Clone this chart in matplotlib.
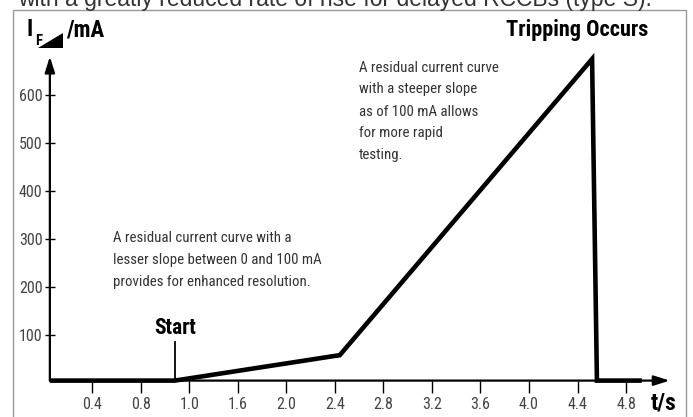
import matplotlib
matplotlib.use("Agg")
import matplotlib.pyplot as plt
from matplotlib.patches import Rectangle, Polygon

# ---------------- data ----------------
t_curve = [0.05, 1.08, 2.44, 4.52, 4.56, 4.93]
i_curve = [5, 5, 58, 675, 5, 5]
start_t = 1.08
start_top = 85
x_ticks = [0.4, 0.8, 1.2, 1.6, 2.0, 2.4, 2.8, 3.2, 3.6, 4.0, 4.4, 4.8]
x_labels = ["0.4", "0.8", "1.0", "1.6", "2.0", "2.4", "2.8", "3.2", "3.6", "4.0", "4.4", "4.8"]
y_ticks = [100, 200, 300, 400, 500, 600]
y_labels = ["100", "200", "300", "400", "500", "600"]
axis_x0 = 0.05
axis_y0 = 5
x_arrow_end = 5.16
y_arrow_end = 680

lower_note = ["A residual current curve with a",
              "lesser slope between 0 and 100 mA",
              "provides for enhanced resolution."]
upper_note = ["A residual current curve",
              "with a steeper slope",
              "as of 100 mA allows",
              "for more rapid",
              "testing."]
top_line = "with a greatly reduced rate of rise for delayed RCCBs (type S)."

NARROW = ["Roboto Condensed", "DejaVu Sans"]
SANS = ["Liberation Sans", "DejaVu Sans"]

W, H = 693, 417
fig = plt.figure(figsize=(W / 100, H / 100), dpi=100)
ax = fig.add_axes([0, 0, 1, 1])
ax.set_xlim((0 - 43.8) / 121.3, (W - 43.8) / 121.3)
ax.set_ylim((383 - H) / 0.48, 383 / 0.48)
ax.patch.set_alpha(0)

for s in ax.spines.values():
    s.set_visible(False)
ax.spines["left"].set_position(("data", axis_x0))
ax.spines["bottom"].set_position(("data", axis_y0))

ax.set_xticks(x_ticks)
ax.set_xticklabels(x_labels)
ax.set_yticks(y_ticks)
ax.set_yticklabels(y_labels)
ax.tick_params(axis="x", direction="out", length=8.5, width=1.0, pad=3,
               labelsize=11.5, labelcolor="#444444", top=False)
ax.tick_params(axis="y", direction="inout", length=7.5, width=1.0, pad=1.5,
               labelsize=11.5, labelcolor="#444444", right=False)
for lab in ax.get_xticklabels() + ax.get_yticklabels():
    lab.set_family(NARROW)

# axes with arrows
arrow_style = "-|>,head_length=0.95,head_width=0.3"
ax.annotate("", xy=(axis_x0, y_arrow_end), xytext=(axis_x0, axis_y0),
            arrowprops=dict(arrowstyle=arrow_style, lw=1.6, color="black",
                            shrinkA=0, shrinkB=0))
ax.annotate("", xy=(x_arrow_end, axis_y0), xytext=(axis_x0, axis_y0),
            arrowprops=dict(arrowstyle=arrow_style, lw=1.6, color="black",
                            shrinkA=0, shrinkB=0))

# curve
ax.plot(t_curve, i_curve, color="black", lw=3.3, solid_joinstyle="miter",
        solid_capstyle="butt", zorder=5)
ax.plot([start_t, start_t], [axis_y0, start_top], color="black", lw=1.3, zorder=6)

# texts
ax.text(start_t, 115, "Start", ha="center", va="center", fontsize=15.5,
        fontweight="bold", family=NARROW, color="black")
ax.text((648 - 43.8) / 121.3, 735, "Tripping Occurs", ha="right", va="center",
        fontsize=16, fontweight="bold", family=NARROW, color="black")
ax.text((664 - 43.8) / 121.3, -41.7, "t/s", ha="center", va="center",
        fontsize=17, fontweight="bold", family=NARROW, color="black")

lower_y = [302, 255.5, 209.5]
for line, yy in zip(lower_note, lower_y):
    ax.text(0.571, yy, line, ha="left", va="center", fontsize=10.7,
            family=NARROW, color="#333333")
upper_y = [656, 611.5, 565.6, 520.8, 475]
for line, yy in zip(upper_note, upper_y):
    ax.text(2.6, yy, line, ha="left", va="center", fontsize=10.7,
            family=NARROW, color="#333333")

# y-axis label  I_F (ramp) /mA
def px(x, y):
    return x / W, 1 - y / H

fig.text(*px(27, 30), "I", ha="left", va="center", fontsize=16.5,
         fontweight="bold", family=NARROW)
fig.text(*px(35, 41), "F", ha="left", va="center", fontsize=10.5,
         fontweight="bold", family=NARROW)
fig.patches.append(Polygon([px(38, 48), px(63, 48), px(63, 33)], closed=True,
                           facecolor="black", edgecolor="none",
                           transform=fig.transFigure, figure=fig))
fig.text(*px(66, 30), "/mA", ha="left", va="center", fontsize=16.5,
         fontweight="bold", family=NARROW)

# frame and cut-off text line
fig.patches.append(Rectangle(px(13, 430), (686 - 13) / W, 420 / H, fill=False,
                             edgecolor="#999999", lw=1.0,
                             transform=fig.transFigure, figure=fig))
fig.text(*px(18, 6), top_line, ha="left", va="baseline", fontsize=16.5,
         family=SANS, color="#333333")

fig.savefig("out.png", dpi=100)
